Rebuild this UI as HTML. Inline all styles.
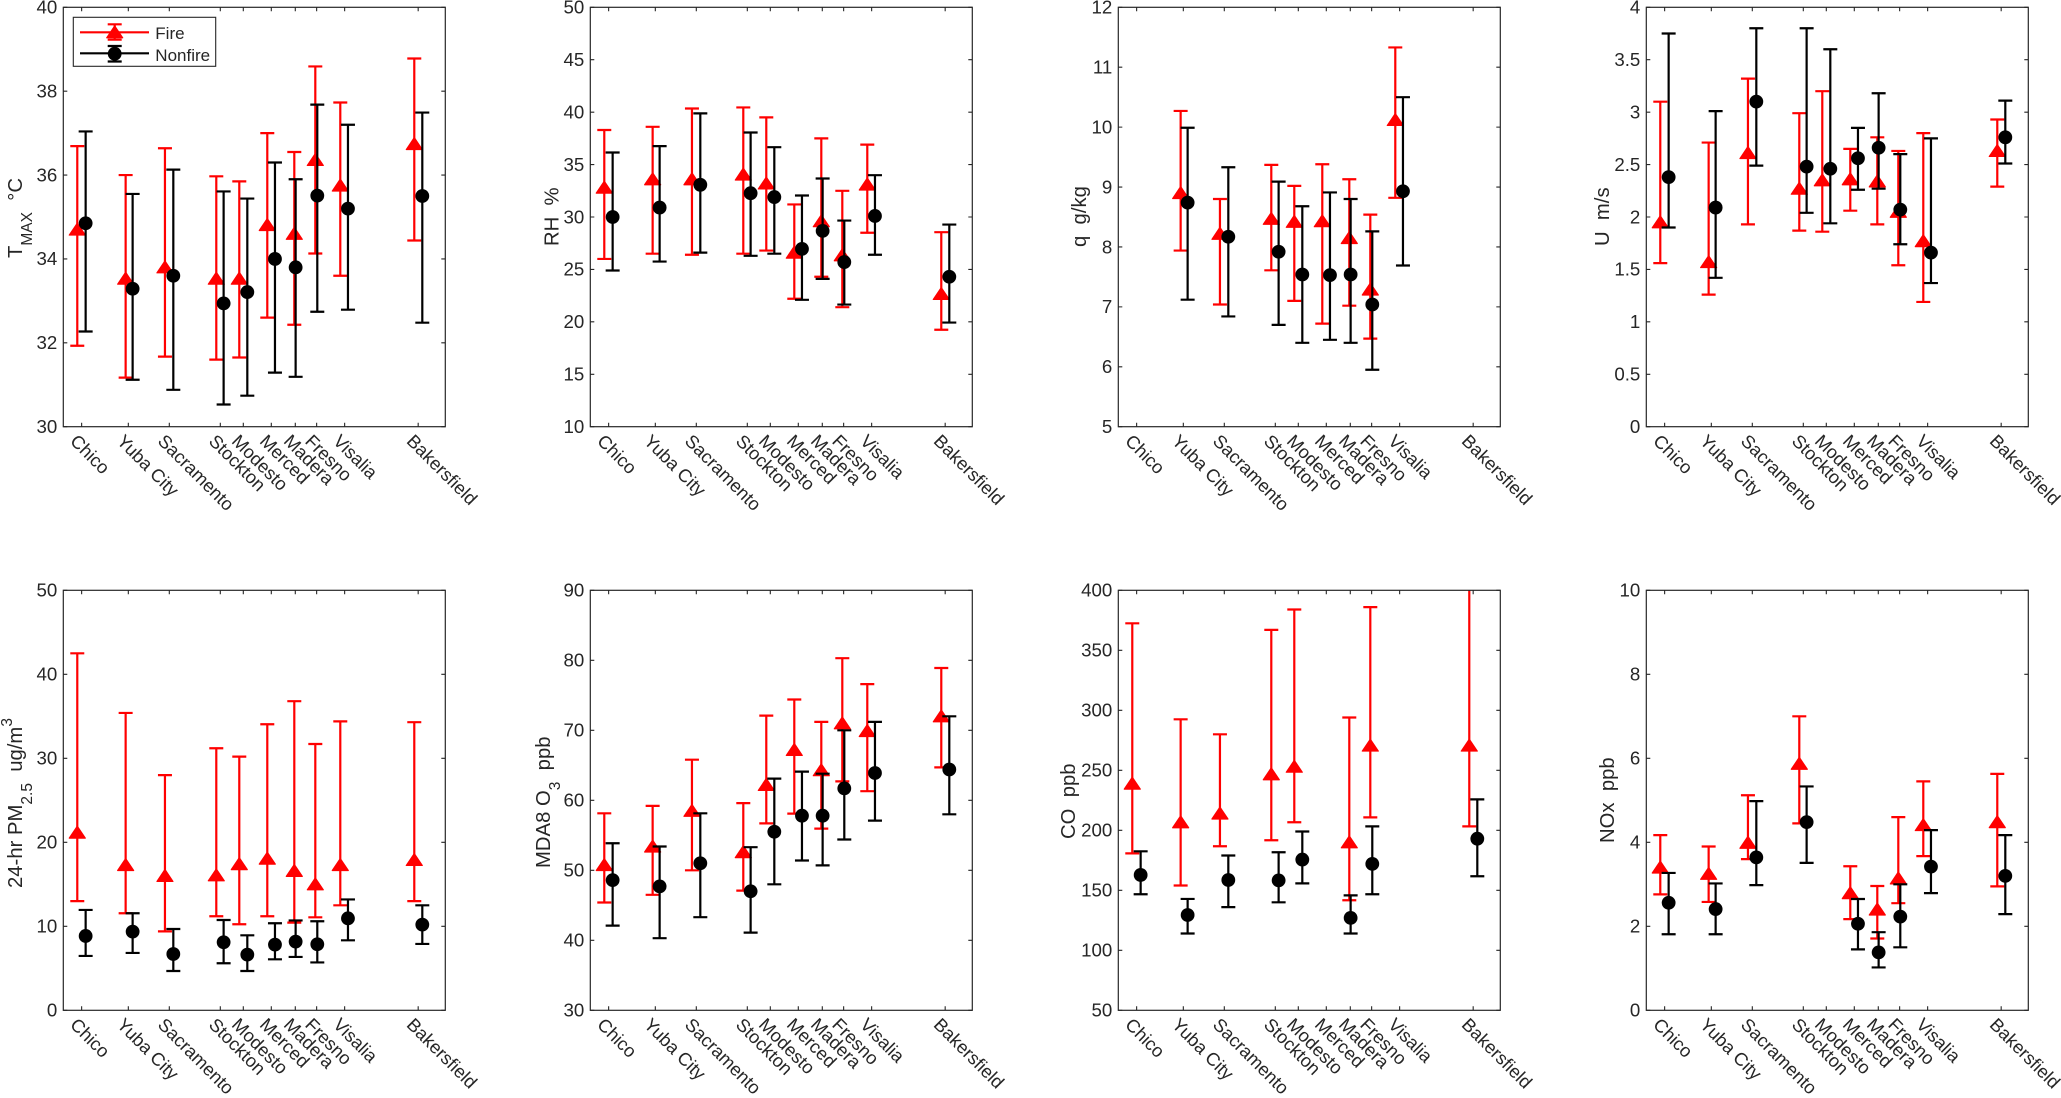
<!DOCTYPE html>
<html lang="en">
<head>
<meta charset="utf-8">
<title>Fire vs Nonfire by station</title>
<style>
html,body{margin:0;padding:0;background:#fff;width:2061px;height:1098px;overflow:hidden}
svg{display:block;font-family:"Liberation Sans",Arial,sans-serif}
text{fill:#262626;white-space:pre}
</style>
</head>
<body>
<svg id="chart" xmlns="http://www.w3.org/2000/svg" width="2061" height="1098" viewBox="0 0 2061 1098">
  <rect x="0" y="0" width="2061" height="1098" fill="#ffffff"/>
</svg>
<script>
// Categories and station positions along the axis (percent of axis width)
const stations = ['Chico','Yuba City','Sacramento','Stockton','Modesto','Merced','Madera','Fresno','Visalia','Bakersfield'];
const stationTicks = [4.8,17.02,27.75,41.1,47.12,54.45,60.73,66.32,73.65,92.9];
const fireOffsets = [3.66,16.32,26.61,40.05,46.07,53.4,60.47,65.97,72.51,91.88];
const nonfireOffsets = [5.85,18.15,28.8,41.97,48.17,55.41,60.82,66.49,74.52,93.98];

// TMAX
const tmaxTicks = [30,32,34,36,38,40];
const tmaxFireMean = [34.7,33.53,33.8,33.53,33.53,34.81,34.6,36.36,35.75,36.74];
const tmaxFireHigh = [36.69,36.0,36.64,35.97,35.85,37.0,36.55,38.59,37.73,38.78];
const tmaxFireLow = [31.93,31.17,31.67,31.6,31.65,32.6,32.43,34.13,33.6,34.44];
const tmaxNonfireMean = [34.85,33.29,33.6,32.94,33.21,34.0,33.8,35.51,35.2,35.5];
const tmaxNonfireHigh = [37.04,35.55,36.13,35.61,35.44,36.3,35.9,37.68,37.2,37.49];
const tmaxNonfireLow = [32.27,31.12,30.88,30.53,30.74,31.29,31.19,32.74,32.79,32.48];

// RH
const rhTicks = [10,15,20,25,30,35,40,45,50];
const rhFireMean = [32.8,33.6,33.6,34.05,33.2,26.6,29.6,26.35,33.1,22.66];
const rhFireHigh = [38.3,38.6,40.35,40.45,39.5,31.2,37.5,32.5,36.9,28.55];
const rhFireLow = [26.0,26.5,26.4,26.5,26.8,22.2,24.3,21.4,28.5,19.25];
const rhNonfireMean = [30.0,30.9,33.07,32.27,31.9,26.96,28.68,25.7,30.1,24.3];
const rhNonfireHigh = [36.15,36.76,39.88,38.06,36.66,32.05,33.67,29.66,33.99,29.28];
const rhNonfireLow = [24.9,25.75,26.6,26.3,26.5,22.1,24.1,21.65,26.4,19.93];

// q
const qTicks = [5,6,7,8,9,10,11,12];
const qFireMean = [null,8.9,8.22,8.47,8.42,8.43,8.15,7.29,10.12,null];
const qFireHigh = [null,10.27,8.8,9.37,9.02,9.38,9.13,8.54,11.33,null];
const qFireLow = [null,7.94,7.04,7.61,7.1,6.72,7.02,6.47,8.82,null];
const qNonfireMean = [null,8.74,8.17,7.92,7.54,7.53,7.54,7.04,8.93,null];
const qNonfireHigh = [null,9.99,9.33,9.09,8.68,8.91,8.8,8.26,10.5,null];
const qNonfireLow = [null,7.12,6.84,6.7,6.4,6.45,6.4,5.95,7.69,null];

// U
const uTicks = [0,0.5,1,1.5,2,2.5,3,3.5,4];
const uFireMean = [1.95,1.57,2.61,2.27,2.35,2.36,2.34,2.05,1.77,2.63];
const uFireHigh = [3.1,2.71,3.32,2.99,3.2,2.65,2.76,2.63,2.8,2.93];
const uFireLow = [1.56,1.26,1.93,1.87,1.86,2.06,1.93,1.54,1.19,2.29];
const uNonfireMean = [2.38,2.09,3.1,2.48,2.46,2.56,2.66,2.07,1.66,2.76];
const uNonfireHigh = [3.75,3.01,3.8,3.8,3.6,2.85,3.18,2.6,2.75,3.11];
const uNonfireLow = [1.9,1.42,2.49,2.04,1.94,2.26,2.27,1.74,1.37,2.51];

// PM2.5
const pmTicks = [0,10,20,30,40,50];
const pmFireMean = [21.15,17.3,16.0,16.07,17.4,18.06,16.6,15.0,17.3,17.9];
const pmFireHigh = [42.5,35.4,28.0,31.2,30.2,34.05,36.8,31.7,34.4,34.3];
const pmFireLow = [13.0,11.55,9.4,11.2,10.24,11.2,10.44,11.07,12.5,13.0];
const pmNonfireMean = [8.85,9.37,6.7,8.1,6.63,7.82,8.17,7.86,10.95,10.2];
const pmNonfireHigh = [11.95,11.55,9.68,10.75,8.93,10.36,10.7,10.6,13.2,12.5];
const pmNonfireLow = [6.47,6.83,4.68,5.6,4.68,6.07,6.35,5.7,8.33,7.9];

// MDA8 O3
const o3Ticks = [30,40,50,60,70,80,90];
const o3FireMean = [50.76,53.4,58.5,52.6,62.2,67.2,64.3,71,69.9,72];
const o3FireHigh = [58.14,59.2,65.8,59.6,72.1,74.4,71.2,80.3,76.6,78.9];
const o3FireLow = [45.4,46.5,50,47.1,56.7,58.1,55.95,62.7,61.3,64.7];
const o3NonfireMean = [48.6,47.7,51,47,55.5,57.8,57.8,61.7,63.9,64.4];
const o3NonfireHigh = [53.86,53.4,58.14,53.3,63.1,64.1,63.8,70,71.2,72];
const o3NonfireLow = [42.1,40.3,43.3,41.1,48,51.4,50.7,54.4,57.1,58];

// CO
const coTicks = [50,100,150,200,250,300,350,400];
const coFireMean = [238.9,206.7,214,246.7,253,null,190,270.6,null,270.6];
const coFireHigh = [372.5,292.5,280,367,384,null,294,386,null,415];
const coFireLow = [180.8,154,186.7,191.7,206.7,null,141.7,210.8,null,203.3];
const coNonfireMean = [162.8,129.4,158.6,158.3,175.6,null,127,172,null,193];
const coNonfireHigh = [182.5,142.8,179,181.7,199,null,145.8,203.3,null,225.8];
const coNonfireLow = [146.7,114,136,140,155.8,null,114,146.7,null,161.7];

// NOx
const noxTicks = [0,2,4,6,8,10];
const noxFireMean = [3.4,3.25,3.99,5.87,null,2.79,2.4,3.14,4.41,4.48];
const noxFireHigh = [4.17,3.9,5.12,7.0,null,3.43,2.96,4.6,5.45,5.63];
const noxFireLow = [2.76,2.58,3.6,4.45,null,2.17,1.71,2.55,3.67,2.95];
const noxNonfireMean = [2.56,2.41,3.64,4.48,null,2.06,1.38,2.23,3.42,3.2];
const noxNonfireHigh = [3.27,3.02,4.98,5.33,null,2.65,1.86,3.0,4.29,4.17];
const noxNonfireLow = [1.81,1.81,2.98,3.51,null,1.45,1.02,1.5,2.79,2.29];

const NS = 'http://www.w3.org/2000/svg';
const root = document.getElementById('chart');
const AXIS_W = 382, AXIS_H_TOP = 419.4, AXIS_H_BOT = 420;
const INK = '#262626', RED = '#ff0000', BLACK = '#000000';
const CAP = 7, LW = 2.2;

function mk(parent, tag, attrs) {
  const e = document.createElementNS(NS, tag);
  for (const k in attrs) e.setAttribute(k, attrs[k]);
  parent.appendChild(e);
  return e;
}

const panels = [
  {key:'tmax', left:63.3, top:7.3, h:AXIS_H_TOP, ticks:tmaxTicks, fm:tmaxFireMean, fh:tmaxFireHigh, fl:tmaxFireLow, nm:tmaxNonfireMean, nh:tmaxNonfireHigh, nl:tmaxNonfireLow,
   tx:22, ty:258, title:[['T',0],['MAX',1],['  \u00B0C',0]]},
  {key:'rh', left:590.3, top:7.3, h:AXIS_H_TOP, ticks:rhTicks, fm:rhFireMean, fh:rhFireHigh, fl:rhFireLow, nm:rhNonfireMean, nh:rhNonfireHigh, nl:rhNonfireLow,
   tx:558.3, ty:246, title:[['RH  %',0]]},
  {key:'q', left:1118.3, top:7.3, h:AXIS_H_TOP, ticks:qTicks, fm:qFireMean, fh:qFireHigh, fl:qFireLow, nm:qNonfireMean, nh:qNonfireHigh, nl:qNonfireLow,
   tx:1086, ty:247, title:[['q  g/kg',0]]},
  {key:'u', left:1646.3, top:7.3, h:AXIS_H_TOP, ticks:uTicks, fm:uFireMean, fh:uFireHigh, fl:uFireLow, nm:uNonfireMean, nh:uNonfireHigh, nl:uNonfireLow,
   tx:1609, ty:246, title:[['U  m/s',0]]},
  {key:'pm25', left:63.3, top:590.3, h:AXIS_H_BOT, ticks:pmTicks, fm:pmFireMean, fh:pmFireHigh, fl:pmFireLow, nm:pmNonfireMean, nh:pmNonfireHigh, nl:pmNonfireLow,
   tx:22, ty:888, title:[['24-hr PM',0],['2.5',1],['  ug/m',0],['3',2]]},
  {key:'o3', left:590.3, top:590.3, h:AXIS_H_BOT, ticks:o3Ticks, fm:o3FireMean, fh:o3FireHigh, fl:o3FireLow, nm:o3NonfireMean, nh:o3NonfireHigh, nl:o3NonfireLow,
   tx:550, ty:868, title:[['MDA8 O',0],['3',1],['  ppb',0]]},
  {key:'co', left:1118.3, top:590.3, h:AXIS_H_BOT, ticks:coTicks, fm:coFireMean, fh:coFireHigh, fl:coFireLow, nm:coNonfireMean, nh:coNonfireHigh, nl:coNonfireLow,
   tx:1075, ty:839, title:[['CO  ppb',0]]},
  {key:'nox', left:1646.3, top:590.3, h:AXIS_H_BOT, ticks:noxTicks, fm:noxFireMean, fh:noxFireHigh, fl:noxFireLow, nm:noxNonfireMean, nh:noxNonfireHigh, nl:noxNonfireLow,
   tx:1614, ty:843, title:[['NOx  ppb',0]]}
];

function drawTriangle(parent, x, y, color) {
  return mk(parent, 'polygon', {points:(x)+','+(y-6.4)+' '+(x+8)+','+(y+5.5)+' '+(x-8)+','+(y+5.5), fill:color, stroke:color, 'stroke-width':1.2, 'stroke-linejoin':'round'});
}

function drawBar(parent, x, yHi, yLo, color) {
  const d = 'M'+x+' '+yHi+'V'+yLo+'M'+(x-CAP)+' '+yHi+'H'+(x+CAP)+'M'+(x-CAP)+' '+yLo+'H'+(x+CAP);
  return mk(parent, 'path', {d:d, fill:'none', stroke:color, 'stroke-width':LW});
}

panels.forEach(function (p) {
  const g = mk(root, 'g', {});
  
  

  const yMin = p.ticks[0], yMax = p.ticks[p.ticks.length - 1];
  const xScale = function (v) { return p.left + v / 100 * AXIS_W; };
  const yScale = function (v) { return p.top + (yMax - v) / (yMax - yMin) * p.h; };
  const bottom = p.top + p.h, right = p.left + AXIS_W;

  const clipId = 'clip-' + p.key;
  const defs = mk(g, 'defs', {});
  const clip = mk(defs, 'clipPath', {id:clipId});
  mk(clip, 'rect', {x:p.left, y:p.top, width:AXIS_W, height:p.h});

  // y ticks and labels
  p.ticks.forEach(function (t) {
    const y = yScale(t);
    const tl = mk(g, 'path', {d:'M'+p.left+' '+y+'h4M'+right+' '+y+'h-4', stroke:INK, 'stroke-width':1.1, fill:'none'});
    
    
    const lab = mk(g, 'text', {x:p.left - 6, y:y + 6.3, 'text-anchor':'end', 'font-size':18.7});
    lab.textContent = String(t);
    
    
  });

  // x ticks and station labels
  stations.forEach(function (name, i) {
    const x = xScale(stationTicks[i]);
    const tl = mk(g, 'path', {d:'M'+x+' '+bottom+'v-4M'+x+' '+p.top+'v4', stroke:INK, 'stroke-width':1.1, fill:'none'});
    
    
    const lx = x - 12.5, ly = bottom + 15.5;
    const lab = mk(g, 'text', {x:lx, y:ly, 'font-size':18.3, transform:'rotate(45 '+lx+' '+ly+')'});
    lab.textContent = name;
    
    
  });

  // y-axis title
  const title = mk(g, 'text', {'font-size':20.3, transform:'translate('+p.tx+' '+p.ty+') rotate(-90)', x:0, y:0});
  
  
  let shift = 0;
  p.title.forEach(function (part) {
    const target = part[1] === 1 ? 10 : part[1] === 2 ? -10 : 0;
    const ts = mk(title, 'tspan', {dy:target - shift, 'font-size':part[1] ? 15.5 : 20.3});
    ts.textContent = part[0];
    shift = target;
  });

  // series
  const plot = mk(g, 'g', {'clip-path':'url(#' + clipId + ')'});
  
  

  stations.forEach(function (name, i) {
    if (p.fm[i] === null) return;
    const x = xScale(fireOffsets[i]);
    const bar = drawBar(plot, x, yScale(p.fh[i]), yScale(p.fl[i]), RED);
    
    
    const m = drawTriangle(plot, x, yScale(p.fm[i]), RED);
    
    
  });
  stations.forEach(function (name, i) {
    if (p.nm[i] === null) return;
    const x = xScale(nonfireOffsets[i]);
    const bar = drawBar(plot, x, yScale(p.nh[i]), yScale(p.nl[i]), BLACK);
    
    
    const m = mk(plot, 'circle', {cx:x, cy:yScale(p.nm[i]), r:6.9, fill:BLACK});
    
    
  });

  // axes box
  const box = mk(g, 'rect', {x:p.left, y:p.top, width:AXIS_W, height:p.h, fill:'none', stroke:INK, 'stroke-width':1.2});
  
  
});

// Legend
const legend = mk(root, 'g', {});


const legendBox = mk(legend, 'rect', {x:73.3, y:17.3, width:142.4, height:49, fill:'#ffffff', stroke:INK, 'stroke-width':1.1});



const legendFire = mk(legend, 'g', {});


mk(legendFire, 'path', {d:'M80 32.3H149', stroke:RED, 'stroke-width':LW, fill:'none'});
drawBar(legendFire, 114.7, 24.3, 39.7, RED);
drawTriangle(legendFire, 114.7, 32.3, RED);
const legendFireText = mk(legendFire, 'text', {x:155.3, y:39, 'font-size':17});
legendFireText.textContent = 'Fire';



const legendNon = mk(legend, 'g', {});


mk(legendNon, 'path', {d:'M80 53.3H149', stroke:BLACK, 'stroke-width':LW, fill:'none'});
drawBar(legendNon, 114.7, 46, 61.5, BLACK);
mk(legendNon, 'circle', {cx:114.7, cy:53.7, r:6.9, fill:BLACK});
const legendNonText = mk(legendNon, 'text', {x:155.3, y:61, 'font-size':17});
legendNonText.textContent = 'Nonfire';


</script>
</body>
</html>
